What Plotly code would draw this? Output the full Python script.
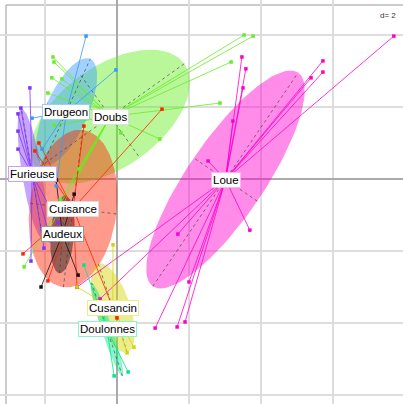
import numpy as np
import plotly.graph_objects as go

# ---- data (in axis units) ----
groups = ["Loue", "Doubs", "Drugeon", "Furieuse", "Cuisance", "Audeux", "Cusancin", "Doulonnes"]
colors = ["#FF00CC", "#66EE22", "#3399FF", "#7F33FF", "#FF2200", "#111111", "#D4D400", "#00E68A"]
label_borders = ["#FFB3EE", "#DDDDDD", "#99CCFF", "#C4A3FF", "#DDDDDD", "#999999", "#EEEE88", "#88F5C8"]

loue_x = [7.69, 5.72, 5.72, 5.39, 3.47, 3.58, 3.50, 3.22, 2.53, 3.69, 1.69, 2.00, 1.06, 1.67, 1.89, -1.11, -0.47]
loue_y = [3.97, 3.28, 2.97, 2.81, 3.39, 3.06, 2.53, 1.61, 0.50, -1.42, -1.53, -2.86, -4.14, -4.11, -3.97, -3.00, -3.33]

doubs_x = [-1.78, -1.75, -1.81, -1.53, -1.92, -1.75, 0.11, 1.19, -1.06, 3.53, 3.78, 3.17, 2.86, -2.58, -1.86, -1.58]
doubs_y = [3.39, 3.25, 2.81, 2.78, 2.39, 1.50, 1.28, 1.11, 0.28, 4.00, 3.97, 3.25, 2.11, -2.44, -1.36, -0.58]

drugeon_x = [-0.86, -0.03, -2.36, -1.69, -2.08]
drugeon_y = [3.97, 3.03, 1.69, -0.19, 0.83]

furieuse_x = [-2.42, -2.67, -2.75, -2.75, -2.75, -1.64, -1.83, -2.03, -2.39]
furieuse_y = [2.53, 1.97, 1.81, 1.33, 0.83, -1.22, -1.72, -1.92, -2.28]

cuisance_x = [1.25, -0.92, -2.17, -2.28, -2.61, -1.92, -1.11, 0.00]
cuisance_y = [1.94, 1.47, 1.00, 0.78, -2.08, -2.83, -3.00, -3.86]

audeux_x = [-1.69, -1.19, -1.08, -2.11, -1.53, -1.50]
audeux_y = [-0.03, -0.42, -2.67, -3.00, -1.42, -1.69]

cusancin_x = [-0.11, 0.47, 0.28, -1.11]
cusancin_y = [-1.83, -4.67, -4.83, -3.00]

doulonnes_x = [-0.92, -0.42, -0.08, 0.31]
doulonnes_y = [-2.39, -3.50, -5.47, -5.36]

xs = [loue_x, doubs_x, drugeon_x, furieuse_x, cuisance_x, audeux_x, cusancin_x, doulonnes_x]
ys = [loue_y, doubs_y, drugeon_y, furieuse_y, cuisance_y, audeux_y, cusancin_y, doulonnes_y]

grid_step = 2
cellipse = 1.0


def hex_rgba(h, a):
    h = h.lstrip("#")
    r, g, b = int(h[0:2], 16), int(h[2:4], 16), int(h[4:6], 16)
    return f"rgba({r},{g},{b},{a})"


def ellipse_geom(x, y, c=cellipse, n=120):
    x = np.asarray(x, float)
    y = np.asarray(y, float)
    mx, my = x.mean(), y.mean()
    cov = np.cov(np.vstack([x, y]), bias=True)
    vals, vecs = np.linalg.eigh(cov)
    vals = np.clip(vals, 0, None)
    t = np.linspace(0, 2 * np.pi, n)
    a1 = c * np.sqrt(vals[1]) * vecs[:, 1]
    a2 = c * np.sqrt(vals[0]) * vecs[:, 0]
    ex = mx + a1[0] * np.cos(t) + a2[0] * np.sin(t)
    ey = my + a1[1] * np.cos(t) + a2[1] * np.sin(t)
    return mx, my, ex, ey, a1, a2


fig = go.Figure()
geo = [ellipse_geom(x, y) for x, y in zip(xs, ys)]

# ellipses
for g, col, (mx, my, ex, ey, a1, a2) in zip(groups, colors, geo):
    fig.add_trace(go.Scatter(x=ex, y=ey, mode="lines", fill="toself",
                             fillcolor=hex_rgba(col, 0.45), line=dict(width=0),
                             hoverinfo="skip", showlegend=False))
# ellipse axes
for (mx, my, ex, ey, a1, a2) in geo:
    for a in (a1, a2):
        fig.add_trace(go.Scatter(x=[mx - a[0], mx + a[0]], y=[my - a[1], my + a[1]],
                                 mode="lines", line=dict(color="rgba(60,60,60,0.8)", width=0.8, dash="dot"),
                                 hoverinfo="skip", showlegend=False))
# stars
for g, col, x, y, (mx, my, *_r) in zip(groups, colors, xs, ys, geo):
    sx, sy = [], []
    for xi, yi in zip(x, y):
        sx += [mx, xi, None]
        sy += [my, yi, None]
    fig.add_trace(go.Scatter(x=sx, y=sy, mode="lines", line=dict(color=col, width=0.8),
                             hoverinfo="skip", showlegend=False))
# points
for g, col, x, y in zip(groups, colors, xs, ys):
    fig.add_trace(go.Scatter(x=x, y=y, mode="markers", name=g,
                             marker=dict(color=col, size=3.5, symbol="square"),
                             showlegend=False))
# labels
for g, bc, (mx, my, *_r) in zip(groups, label_borders, geo):
    fig.add_annotation(x=mx, y=my, text=g, showarrow=False,
                       font=dict(family="Liberation Sans, Arial", size=11.5, color="black"),
                       bgcolor="white", bordercolor=bc, borderwidth=1, borderpad=1)

x0, x1 = -117 / 36, (403 - 117) / 36
y1, y0 = 179 / 36, (179 - 404) / 36
fx, fy = (6 - 117) / 36, (179 - 5) / 36

# frame (left / top)
fig.add_shape(type="line", x0=fx, x1=x1, y0=fy, y1=fy, line=dict(color="#BBBBBB", width=1.5), layer="below")
fig.add_shape(type="line", x0=fx, x1=fx, y0=fy, y1=y0, line=dict(color="#BBBBBB", width=1.5), layer="below")

fig.add_annotation(xref="paper", yref="paper", x=0.988, y=0.978, xanchor="right", yanchor="top",
                   text="d= 2", showarrow=False,
                   font=dict(family="Liberation Sans, Arial", size=8, color="#333333"))

fig.update_xaxes(range=[x0, x1], dtick=grid_step, tick0=0, showgrid=True, gridcolor="#DDDDDD", gridwidth=1.5,
                 zeroline=True, zerolinecolor="#AAAAAA", zerolinewidth=1.5, showticklabels=False, ticks="")
fig.update_yaxes(range=[y0, y1], dtick=grid_step, tick0=0, showgrid=True, gridcolor="#DDDDDD", gridwidth=1.5,
                 zeroline=True, zerolinecolor="#AAAAAA", zerolinewidth=1.5, showticklabels=False, ticks="")
fig.update_layout(width=403, height=404, margin=dict(l=0, r=0, t=0, b=0),
                  plot_bgcolor="white", paper_bgcolor="white", showlegend=False)

fig.write_html("out.html", config={"displayModeBar": False},
               post_script="document.body.style.margin='0';document.body.style.overflow='hidden';")
